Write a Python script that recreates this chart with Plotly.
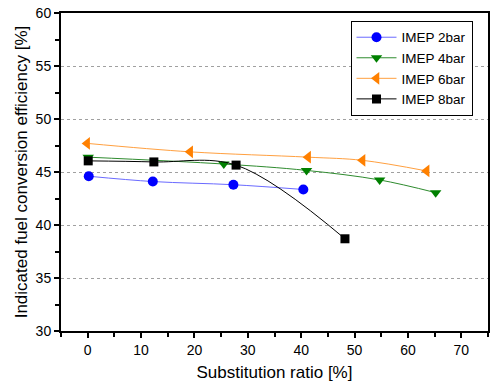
import plotly.graph_objects as go

x_2bar = [0.2, 12.2, 27.3, 40.4]
y_2bar = [44.6, 44.1, 43.8, 43.35]
x_4bar = [0.1, 25.5, 41.0, 54.7, 65.2]
y_4bar = [46.4, 45.75, 45.15, 44.25, 43.05]
x_6bar = [-0.1, 19.2, 41.3, 51.5, 63.5]
y_6bar = [47.7, 46.9, 46.4, 46.1, 45.1]
x_8bar = [0.1, 12.4, 27.8, 48.2]
y_8bar = [46.05, 45.95, 45.65, 38.7]

series = [
    ("IMEP 2bar", x_2bar, y_2bar, "#0000ff", "#6a6aff", "circle", 10),
    ("IMEP 4bar", x_4bar, y_4bar, "#008000", "#2e8b2e", "triangle-down", 10),
    ("IMEP 6bar", x_6bar, y_6bar, "#ff8000", "#ffa040", "triangle-left", 11),
    ("IMEP 8bar", x_8bar, y_8bar, "#000000", "#000000", "square", 9),
]

fig = go.Figure()
for name, xs, ys, mc, lc, sym, sz in series:
    fig.add_trace(go.Scatter(
        x=xs, y=ys, name=name, mode="lines+markers",
        line=dict(color=lc, width=1, shape="spline", smoothing=1.0),
        marker=dict(color=mc, symbol=sym, size=sz, line=dict(width=0)),
    ))

font = "Liberation Sans, Arial, sans-serif"
fig.update_layout(
    width=490, height=387,
    margin=dict(l=61, r=2, t=13, b=56, autoexpand=False),
    paper_bgcolor="white", plot_bgcolor="white",
    font=dict(family=font, color="black", size=14),
    showlegend=True,
    legend=dict(
        x=0.678, y=0.975, xanchor="left", yanchor="top",
        bordercolor="black", borderwidth=1, bgcolor="white",
        font=dict(size=13.5, family=font), tracegroupgap=0,
        itemwidth=40, entrywidth=125, entrywidthmode="pixels",
    ),
    xaxis=dict(
        range=[-5, 75], tickvals=[0, 10, 20, 30, 40, 50, 60, 70],
        ticks="outside", ticklen=5, tickwidth=2, tickcolor="black",
        showline=True, linecolor="black", linewidth=2, mirror=True,
        showgrid=False, zeroline=False, automargin=False,
        minor=dict(ticks="outside", dtick=5, tick0=0, ticklen=4, tickwidth=2, tickcolor="black", showgrid=False),
        title=dict(text="Substitution ratio [%]", font=dict(size=17), standoff=9),
        tickfont=dict(size=14),
    ),
    yaxis=dict(
        range=[30, 60], tickvals=[30, 35, 40, 45, 50, 55, 60],
        ticks="outside", ticklen=5, tickwidth=2, tickcolor="black",
        showline=True, linecolor="black", linewidth=2, mirror=True,
        showgrid=True, gridcolor="#a0a0a0", griddash="dot", gridwidth=1,
        zeroline=False, automargin=False,
        minor=dict(ticks="outside", dtick=2.5, tick0=30, ticklen=4, tickwidth=2, tickcolor="black", showgrid=False),
        title=dict(text="Indicated fuel conversion efficiency [%]", font=dict(size=17), standoff=4),
        tickfont=dict(size=14),
    ),
)

fig.write_html(
    "out.html",
    config={"displayModeBar": False},
    post_script="document.body.style.margin='0';document.body.style.padding='0';document.body.style.overflow='hidden';",
)
